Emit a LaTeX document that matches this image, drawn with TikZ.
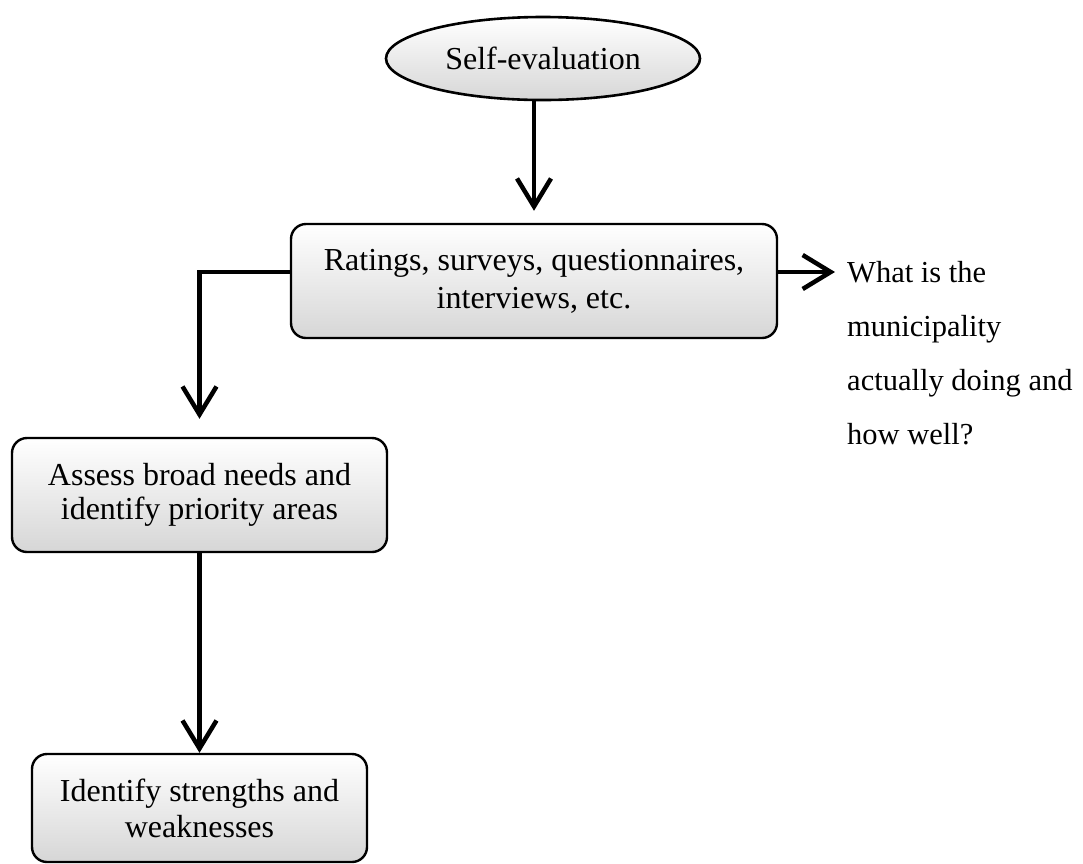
\documentclass[tikz,border=0pt]{standalone}
\usepackage{fontspec}
\setmainfont{Liberation Serif}
\usetikzlibrary{arrows.meta,shapes.geometric}

\tikzset{
  boxfill/.style={top color=white, middle color=white, bottom color=black!16},
  stepbox/.style={draw, line width=2.4pt, rounded corners=15pt, boxfill,
    align=center, inner sep=0pt, font=\fontsize{32}{36}\selectfont},
  ovalbox/.style={draw, ellipse, line width=2.6pt, boxfill, inner sep=0pt,
    font=\fontsize{32}{36}\selectfont},
  conn/.style={line width=4.5pt, -{Straight Barb[length=28pt,width=34pt,line width=4.5pt]}}
}

\begin{document}
\begin{tikzpicture}[x=1pt, y=-1pt]
  \useasboundingbox[fill=white] (0,0) rectangle (1083,863);

  % process steps
  \node[ovalbox, minimum width=314pt, minimum height=83pt] (self) at (543,58.5) {Self-evaluation};
  \node[stepbox, minimum width=486pt, minimum height=114pt, font=\fontsize{32}{38}\selectfont] (rat) at (534,281)
    {Ratings, surveys, questionnaires,\\interviews, etc.};
  \node[stepbox, minimum width=375pt, minimum height=114pt, font=\fontsize{32}{34}\selectfont] (ass) at (199.5,495)
    {Assess broad needs and\\identify priority areas};
  \node[stepbox, minimum width=335pt, minimum height=108pt] (ide) at (199.5,808)
    {Identify strengths and\\weaknesses};

  % side question
  \node[anchor=north west, align=left, inner sep=0pt, font=\fontsize{30.5}{54}\selectfont] (q) at (847,261)
    {What is the\\municipality\\actually doing and\\how well?};

  % connectors
  \draw[conn, shorten >=12pt] (self.south -| rat.north) -- (rat.north);
  \draw[conn, shorten >=12pt] ([yshift=9pt]rat.east) -- ([yshift=9pt]rat.east -| q.west);
  \draw[conn, shorten >=18pt] ([yshift=9pt]rat.west) -| (ass.north);
  \draw[conn] (ass.south) -- (ide.north);
\end{tikzpicture}
\end{document}
